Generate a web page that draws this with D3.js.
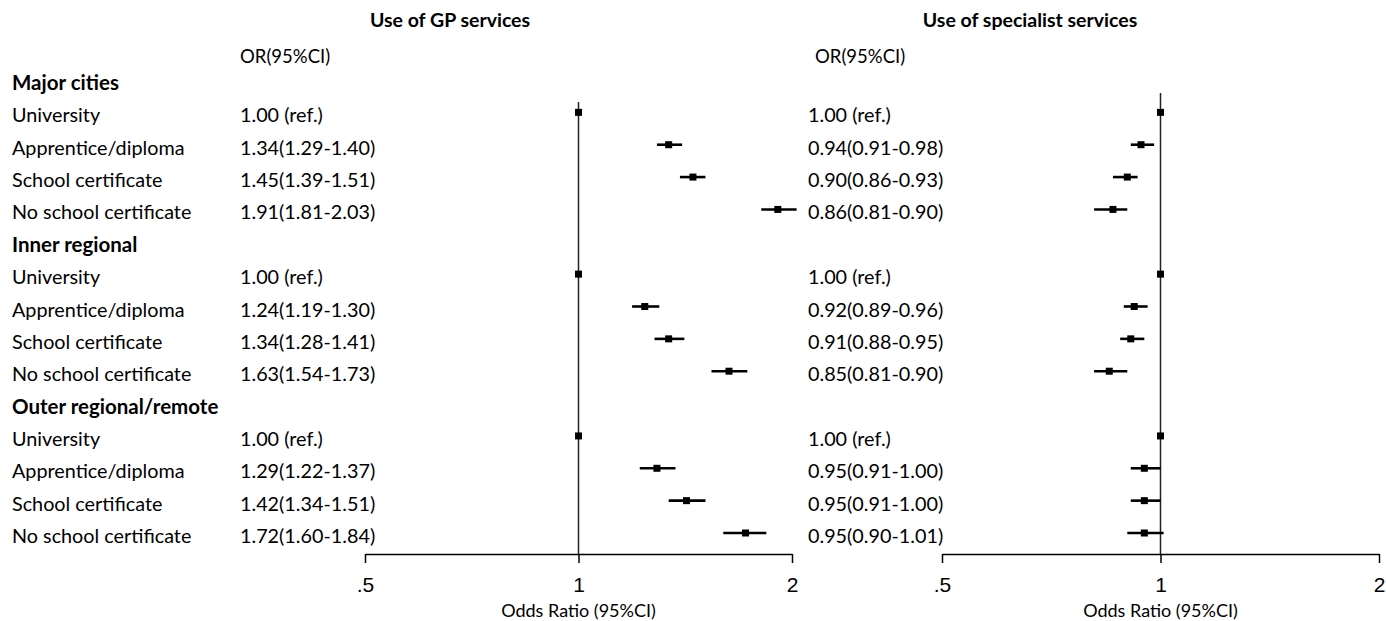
<!DOCTYPE html>
<html>
<head>
<meta charset="utf-8">
<script src="https://cdn.jsdelivr.net/npm/d3@7"></script>
<style>
  body { margin: 0; background: #fff; }
  text { fill: #000; }
  .lbl { font-family: Lato, "Open Sans", sans-serif; font-size: 19.8px; }
  .hdr { font-family: Lato, "Open Sans", sans-serif; font-size: 20.5px; font-weight: bold; }
  .ttl { font-family: Lato, "Open Sans", sans-serif; font-size: 19.5px; font-weight: bold; }
  .sub { font-family: Lato, "Open Sans", sans-serif; font-size: 18.5px; }
  .axis text { font-family: "Liberation Sans", Arial, sans-serif; font-size: 21px; fill: #000; }
  .axis path, .axis line { stroke: #000; stroke-width: 1.5; }
</style>
</head>
<body>
<script>
// row labels
var groups = ["Major cities", "Inner regional", "Outer regional/remote"];
var levels = ["University", "Apprentice/diploma", "School certificate", "No school certificate"];

// GP services odds ratios, 4 per group
var gpOR = [1.00, 1.34, 1.45, 1.91, 1.00, 1.24, 1.34, 1.63, 1.00, 1.29, 1.42, 1.72];
var gpLo = [1.00, 1.29, 1.39, 1.81, 1.00, 1.19, 1.28, 1.54, 1.00, 1.22, 1.34, 1.60];
var gpHi = [1.00, 1.40, 1.51, 2.03, 1.00, 1.30, 1.41, 1.73, 1.00, 1.37, 1.51, 1.84];

// specialist services odds ratios
var spOR = [1.00, 0.94, 0.90, 0.86, 1.00, 0.92, 0.91, 0.85, 1.00, 0.95, 0.95, 0.95];
var spLo = [1.00, 0.91, 0.86, 0.81, 1.00, 0.89, 0.88, 0.81, 1.00, 0.91, 0.91, 0.90];
var spHi = [1.00, 0.98, 0.93, 0.90, 1.00, 0.96, 0.95, 0.90, 1.00, 1.00, 1.00, 1.01];

var tickVals = [0.5, 1, 2];
var tickLabels = [".5", "1", "2"];

var w = 1386, h = 621;
var axisY = 554;

var svg = d3.select("body").append("svg")
  .attr("width", w)
  .attr("height", h);

// one row per line, header rows included
var rows = [];
groups.forEach(function(g, gi) {
  rows.push({ label: g, header: true });
  levels.forEach(function(l, li) {
    var k = gi * 4 + li;
    rows.push({ label: l, header: false, k: k });
  });
});

var yScale = d3.scaleLinear().domain([0, rows.length - 1]).range([80, 533]);

var f2 = d3.format(".2f");
function orText(or, lo, hi, k) {
  if (or[k] === 1 && lo[k] === 1 && hi[k] === 1) return "1.00 (ref.)";
  return f2(or[k]) + "(" + f2(lo[k]) + "-" + f2(hi[k]) + ")";
}

// row labels on the left
svg.selectAll("text.rowlab")
  .data(rows)
  .enter()
  .append("text")
  .attr("class", d => d.header ? "hdr" : "lbl")
  .attr("x", 12)
  .attr("y", (d, i) => yScale(i) + 10)
  .text(d => d.label);

var panels = [
  { title: "Use of GP services", titleX: 450, orX: 240, orHdrX: 240, refTop: 102,
    range: [365, 792], or: gpOR, lo: gpLo, hi: gpHi },
  { title: "Use of specialist services", titleX: 1030, orX: 808, orHdrX: 815, refTop: 93,
    range: [942, 1379], or: spOR, lo: spLo, hi: spHi }
];

panels.forEach(function(p) {
  var x = d3.scaleLog().domain([0.5, 2]).range(p.range);

  svg.append("text")
    .attr("class", "ttl")
    .attr("x", p.titleX)
    .attr("y", 27)
    .attr("text-anchor", "middle")
    .text(p.title);

  svg.append("text")
    .attr("class", "sub")
    .attr("x", p.orHdrX)
    .attr("y", 63)
    .text("OR(95%CI)");

  // OR texts
  svg.selectAll(null)
    .data(rows.filter(d => !d.header))
    .enter()
    .append("text")
    .attr("class", "lbl")
    .attr("x", p.orX)
    .attr("y", d => yScale(rows.indexOf(d)) + 10)
    .text(d => orText(p.or, p.lo, p.hi, d.k));

  // axis
  var xAxis = d3.axisBottom(x)
    .tickValues(tickVals)
    .tickFormat((d, i) => tickLabels[i])
    .tickSize(9)
    .tickSizeOuter(0)
    .tickPadding(14);

  var g = svg.append("g")
    .attr("class", "axis")
    .attr("transform", "translate(0," + axisY + ")")
    .call(xAxis);

  g.append("text")
    .attr("x", x(1))
    .attr("y", 63)
    .attr("text-anchor", "middle")
    .style("font-family", "Lato, 'Open Sans', sans-serif")
    .style("font-size", "18px")
    .text("Odds Ratio (95%CI)");

  // reference line at 1
  svg.append("line")
    .attr("x1", x(1)).attr("x2", x(1))
    .attr("y1", p.refTop).attr("y2", axisY)
    .attr("stroke", "#222")
    .attr("stroke-width", 1.5);

  var data = rows.filter(d => !d.header);

  // confidence intervals
  svg.selectAll(null)
    .data(data)
    .enter()
    .append("line")
    .attr("x1", d => x(p.lo[d.k]))
    .attr("x2", d => x(p.hi[d.k]))
    .attr("y1", d => yScale(rows.indexOf(d)))
    .attr("y2", d => yScale(rows.indexOf(d)))
    .attr("stroke", "#000")
    .attr("stroke-width", 2.6);

  // point estimates
  svg.selectAll(null)
    .data(data)
    .enter()
    .append("rect")
    .attr("x", d => x(p.or[d.k]) - 3.5)
    .attr("y", d => yScale(rows.indexOf(d)) - 3.5)
    .attr("width", 7)
    .attr("height", 7)
    .attr("fill", "#000");
});
</script>
</body>
</html>
